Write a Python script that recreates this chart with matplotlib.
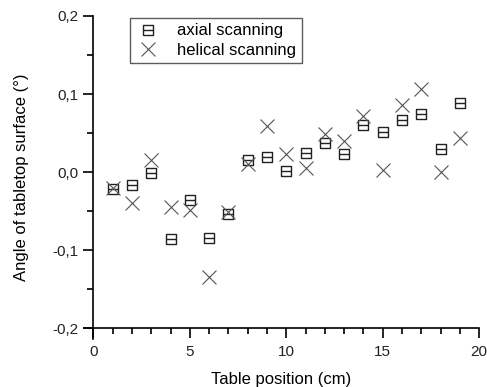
import matplotlib
matplotlib.use("Agg")
import matplotlib.pyplot as plt
from matplotlib.path import Path
from matplotlib.ticker import MultipleLocator, FuncFormatter

plt.rcParams['font.family'] = ['Liberation Sans', 'DejaVu Sans']

position = list(range(1, 20))
axial = [-0.021, -0.017, -0.001, -0.085, -0.035, -0.084, -0.053, 0.015, 0.019,
         0.002, 0.025, 0.037, 0.023, 0.060, 0.052, 0.067, 0.075, 0.030, 0.088]
helical = [-0.020, -0.039, 0.015, -0.045, -0.048, -0.134, -0.051, 0.010, 0.059,
           0.023, 0.005, 0.049, 0.040, 0.072, 0.003, 0.086, 0.106, 0.000, 0.044]

# square with a horizontal bar through the middle
box = Path([(-1, -1), (1, -1), (1, 1), (-1, 1), (-1, -1), (-1, 0), (1, 0)],
           [Path.MOVETO, Path.LINETO, Path.LINETO, Path.LINETO, Path.LINETO,
            Path.MOVETO, Path.LINETO])

fig = plt.figure(figsize=(4.87, 3.87), dpi=100)
ax = fig.add_axes([0.172, 0.125, 0.812, 0.834])

ax.plot(position, axial, linestyle='none', marker=box, markersize=7.5,
        markerfacecolor='none', markeredgecolor='#222222', markeredgewidth=1.0,
        label='axial scanning')
ax.plot(position, helical, linestyle='none', marker='x', markersize=10,
        color='#555555', markeredgewidth=0.8, label='helical scanning')

ax.set_xlim(-0.5, 20)
ax.set_ylim(-0.213, 0.2)
ax.spines['left'].set_position(('data', 0))
ax.spines['bottom'].set_position(('data', -0.2))
ax.spines['right'].set_visible(False)
ax.spines['top'].set_visible(False)
for s in ('left', 'bottom'):
    ax.spines[s].set_linewidth(1.2)

ax.xaxis.set_major_locator(MultipleLocator(5))
ax.xaxis.set_minor_locator(MultipleLocator(1))
ax.yaxis.set_major_locator(MultipleLocator(0.1))
ax.yaxis.set_minor_locator(MultipleLocator(0.05))
ax.yaxis.set_major_formatter(FuncFormatter(lambda v, p: ('%.1f' % v).replace('.', ',').replace('-0,0', '0,0')))
ax.tick_params(which='major', direction='out', length=7, width=1.2, labelsize=11,
               colors='black', labelcolor='#222222')
ax.tick_params(axis='x', which='major', pad=5)
ax.tick_params(which='minor', direction='out', length=4, width=1.2)
ax.set_xticks([0, 5, 10, 15, 20])

ax.set_xlabel('Table position (cm)', fontsize=12, labelpad=9)
ax.set_ylabel('Angle of tabletop surface (°)', fontsize=12, labelpad=17)

leg = ax.legend(loc='upper left', bbox_to_anchor=(0.112, 1.0), fontsize=12,
                frameon=True, fancybox=False, edgecolor='#333333',
                handletextpad=1.0, borderpad=0.35, labelspacing=0.25,
                handlelength=1.5, borderaxespad=0.1)
leg.get_frame().set_linewidth(1.0)

fig.savefig('out.png', dpi=100)
